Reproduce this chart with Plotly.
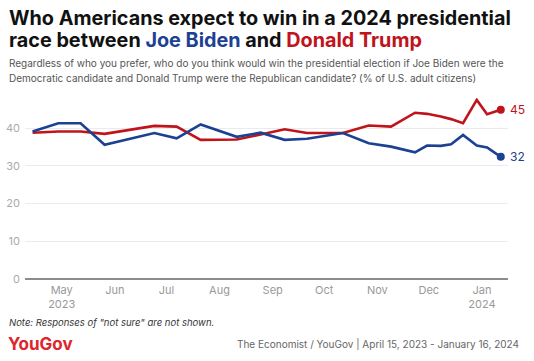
import plotly.graph_objects as go

dates = ["2023-04-14", "2023-04-29", "2023-05-12", "2023-05-26", "2023-06-24",
         "2023-07-07", "2023-07-21", "2023-08-11", "2023-08-25", "2023-09-08",
         "2023-09-21", "2023-10-12", "2023-10-27", "2023-11-09", "2023-11-23",
         "2023-11-30", "2023-12-08", "2023-12-14", "2023-12-21", "2023-12-29",
         "2024-01-04", "2024-01-12"]
biden = [39.1, 41.3, 41.3, 35.6, 38.7, 37.3, 41.0, 37.7, 38.8, 36.9, 37.2,
         38.7, 36.0, 35.1, 33.6, 35.4, 35.3, 35.7, 38.2, 35.4, 34.9, 32.4]
trump = [38.8, 39.1, 39.1, 38.5, 40.6, 40.4, 36.9, 37.0, 38.3, 39.7, 38.7,
         38.7, 40.7, 40.4, 44.1, 43.8, 43.1, 42.4, 41.3, 47.5, 43.7, 44.9]
tick_dates = ["2023-05-01", "2023-06-01", "2023-07-01", "2023-08-01", "2023-09-01",
              "2023-10-01", "2023-11-01", "2023-12-01", "2024-01-01"]
tick_text = ["May<br>2023", "Jun", "Jul", "Aug", "Sep", "Oct", "Nov", "Dec", "Jan<br>2024"]
y_ticks = [0, 10, 20, 30, 40]

BLUE = "#1c4193"
RED = "#c0141c"

W, H = 534, 361
L, R = 25, 508
T, B = 98.2, 278.7

def px(x):
    return (x - L) / (R - L)

def py(y):
    return (B - y) / (B - T)

fig = go.Figure()
fig.add_trace(go.Scatter(x=dates, y=trump, mode="lines", line=dict(color=RED, width=2.6),
                         hoverinfo="skip", showlegend=False, cliponaxis=False))
fig.add_trace(go.Scatter(x=dates, y=biden, mode="lines", line=dict(color=BLUE, width=2.6),
                         hoverinfo="skip", showlegend=False, cliponaxis=False))
fig.add_trace(go.Scatter(x=[dates[-1]], y=[trump[-1]], mode="markers",
                         marker=dict(color=RED, size=8), showlegend=False, cliponaxis=False))
fig.add_trace(go.Scatter(x=[dates[-1]], y=[biden[-1]], mode="markers",
                         marker=dict(color=BLUE, size=8), showlegend=False, cliponaxis=False))

ann = []
ann.append(dict(x=dates[-1], y=trump[-1], xref="x", yref="y", text=f"{round(trump[-1])}",
                showarrow=False, xanchor="left", xshift=7, font=dict(color=RED, size=12, family="Inter")))
ann.append(dict(x=dates[-1], y=biden[-1], xref="x", yref="y", text=f"{round(biden[-1])}",
                showarrow=False, xanchor="left", xshift=7, font=dict(color=BLUE, size=12, family="Inter")))

title1 = "<b>Who Americans expect to win in a 2024 presidential</b>"
title2 = (f"<b>race between <span style='color:{BLUE}'>Joe Biden</span> and "
          f"<span style='color:{RED}'>Donald Trump</span></b>")
for t, yc in ((title1, 18.5), (title2, 40.5)):
    ann.append(dict(x=px(7), y=py(yc), xref="paper", yref="paper", text=t, showarrow=False,
                    xanchor="left", yanchor="middle", align="left",
                    font=dict(size=19.8, color="#111111", family="Inter")))
sub1 = "Regardless of who you prefer, who do you think would win the presidential election if Joe Biden were the"
sub2 = "Democratic candidate and Donald Trump were the Republican candidate? (% of U.S. adult citizens)"
for t, yc in ((sub1, 63), (sub2, 78)):
    ann.append(dict(x=px(7), y=py(yc), xref="paper", yref="paper", text=t, showarrow=False,
                    xanchor="left", yanchor="middle", align="left",
                    font=dict(size=10, color="#555555", family="Inter")))
ann.append(dict(x=px(7), y=py(322), xref="paper", yref="paper",
                text="<i>Note: Responses of \"not sure\" are not shown.</i>", showarrow=False,
                xanchor="left", yanchor="middle", font=dict(size=9.5, color="#333333", family="Inter")))
ann.append(dict(x=px(6), y=py(344), xref="paper", yref="paper",
                text="<b>YouGov</b>", showarrow=False,
                xanchor="left", yanchor="middle", font=dict(size=17, color="#e0242b", family="Inter")))
ann.append(dict(x=px(521), y=py(344), xref="paper", yref="paper",
                text="The Economist / YouGov | April 15, 2023 - January 16, 2024", showarrow=False,
                xanchor="right", yanchor="middle", font=dict(size=10, color="#666666", family="Inter")))

fig.update_layout(
    width=W, height=H,
    margin=dict(l=L, r=W - R, t=T, b=H - B, pad=0, autoexpand=False),
    paper_bgcolor="white", plot_bgcolor="white",
    font=dict(family="Inter", color="#999999", size=11),
    annotations=ann,
    xaxis=dict(range=["2023-04-09 14:00", "2024-01-16 05:00"], tickvals=tick_dates,
               ticktext=tick_text, showgrid=False, zeroline=False, showline=False,
               ticks="", tickfont=dict(size=11, color="#999999"), automargin=False,
               ticklabelstandoff=3),
    yaxis=dict(range=[0, 48], tickvals=y_ticks, showgrid=True, gridcolor="#ebebeb",
               gridwidth=1, zeroline=True, zerolinecolor="#8c8c8c", zerolinewidth=2,
               showline=False, ticks="", tickfont=dict(size=11, color="#aaaaaa"),
               ticklabelstandoff=4, automargin=False),
)

fig.write_html("out.html", config={"displayModeBar": False},
               post_script="document.body.style.margin='0';document.body.style.overflow='hidden';")
